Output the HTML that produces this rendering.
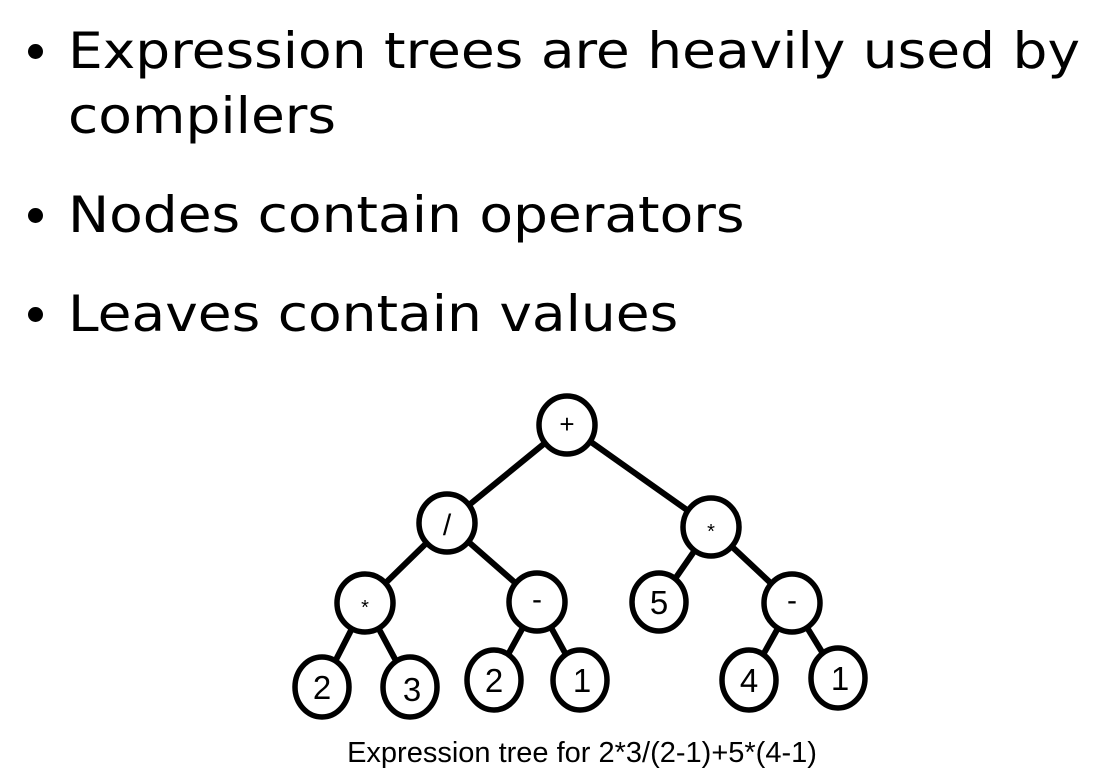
<!DOCTYPE html>
<html><head><meta charset="utf-8"><style>
html,body{margin:0;padding:0;background:#fff;}
body{width:1096px;height:784px;position:relative;overflow:hidden;font-family:"DejaVu Sans","Liberation Sans",sans-serif;color:#000;}
.t{position:absolute;font-size:50px;white-space:nowrap;line-height:1;transform:scaleX(1.1);transform-origin:0 0;}
.b{position:absolute;width:15px;height:15px;border-radius:50%;background:#000;}
</style></head><body>
<div class="b" style="left:28px;top:44px"></div>
<div class="t" style="left:68px;top:26px">Expression trees are heavily used by</div>
<div class="t" style="left:68px;top:91px">compilers</div>
<div class="b" style="left:28px;top:208px"></div>
<div class="t" style="left:68px;top:190px">Nodes contain operators</div>
<div class="b" style="left:28px;top:307px"></div>
<div class="t" style="left:68px;top:289px">Leaves contain values</div>
<svg width="1096" height="784" style="position:absolute;left:0;top:0" font-family="Liberation Sans, sans-serif">
<g stroke="#000" stroke-width="6" fill="none">
<line x1="567" y1="425" x2="447" y2="523"/>
<line x1="567" y1="425" x2="711" y2="527"/>
<line x1="447" y1="523" x2="365" y2="603"/>
<line x1="447" y1="523" x2="537" y2="602"/>
<line x1="711" y1="527" x2="659" y2="602"/>
<line x1="711" y1="527" x2="792" y2="603"/>
<line x1="365" y1="603" x2="322" y2="687"/>
<line x1="365" y1="603" x2="410" y2="687"/>
<line x1="537" y1="602" x2="494" y2="680"/>
<line x1="537" y1="602" x2="580" y2="680"/>
<line x1="792" y1="603" x2="749" y2="680"/>
<line x1="792" y1="603" x2="838" y2="678"/>
</g>
<g stroke="#000" stroke-width="5.5" fill="#fff">
<ellipse cx="567" cy="425" rx="28" ry="29"/>
<ellipse cx="447" cy="523" rx="28" ry="29"/>
<ellipse cx="711" cy="527" rx="28" ry="29"/>
<ellipse cx="365" cy="603" rx="28" ry="29"/>
<ellipse cx="537" cy="602" rx="28" ry="29"/>
<ellipse cx="659" cy="602" rx="27" ry="29"/>
<ellipse cx="792" cy="603" rx="28" ry="29"/>
<ellipse cx="322" cy="687" rx="27" ry="30"/>
<ellipse cx="410" cy="687" rx="27" ry="30"/>
<ellipse cx="494" cy="680" rx="27" ry="30"/>
<ellipse cx="580" cy="680" rx="27" ry="30"/>
<ellipse cx="749" cy="680" rx="27" ry="30"/>
<ellipse cx="838" cy="678" rx="27" ry="30"/>
</g>
<g font-size="33" text-anchor="middle" fill="#000">
<text x="567" y="433" font-size="26">+</text>
<text x="447" y="535" font-size="30">/</text>
<text x="711" y="538" font-size="20">*</text>
<text x="365" y="614" font-size="20">*</text>
<text x="537" y="609" font-size="30">-</text>
<text x="659" y="614">5</text>
<text x="792" y="610" font-size="30">-</text>
<text x="322" y="699">2</text>
<text x="412" y="701">3</text>
<text x="494" y="692">2</text>
<text x="582" y="692">1</text>
<text x="749" y="692">4</text>
<text x="840" y="690">1</text>
<text x="582" y="762" font-size="29">Expression tree for 2*3/(2-1)+5*(4-1)</text>
</g>
</svg>
</body></html>
